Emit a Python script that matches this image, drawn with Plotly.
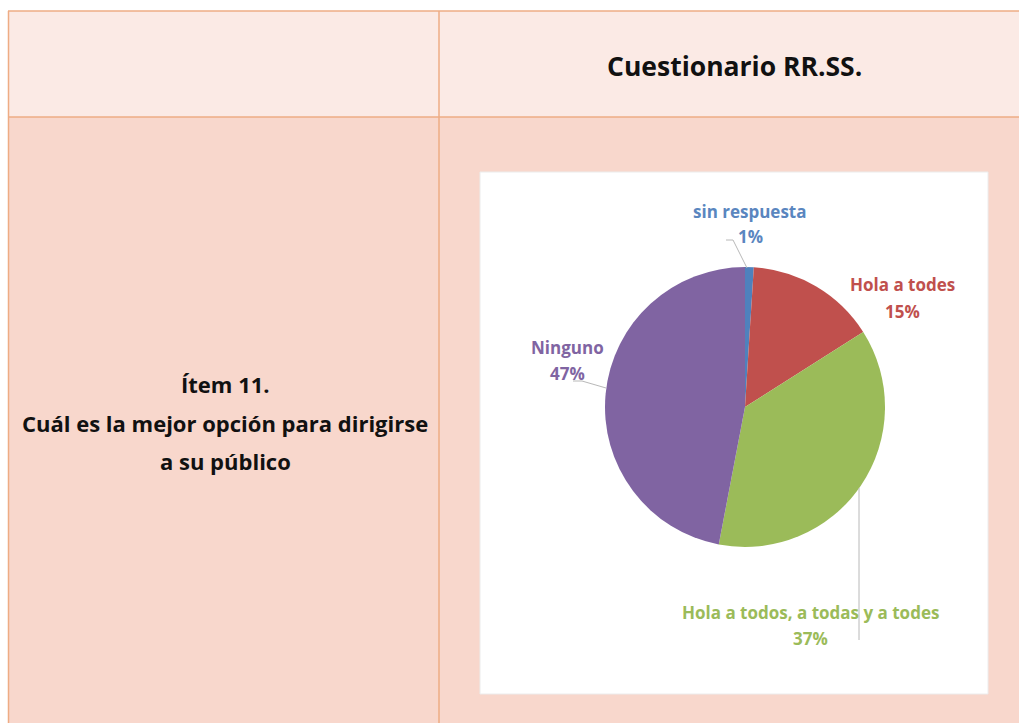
import plotly.graph_objects as go

# ---- data ----
categories = ["sin respuesta", "Hola a todes", "Hola a todos, a todas y a todes", "Ninguno"]
values = [1, 15, 37, 47]
slice_colors = ["#4f81bd", "#c0504d", "#9bbb59", "#8064a2"]
header_title = "Cuestionario RR.SS."
item_lines = ["Ítem 11.", "Cuál es la mejor opción para dirigirse", "a su público"]

W, H = 1019, 723
def px(x): return x / W
def py(y): return 1 - y / H

FONT = "Open Sans"
fig = go.Figure()

# pie centred at (745,407), radius 140 px
cx, cy, r = 745, 407, 140
fig.add_trace(go.Pie(
    labels=categories, values=values, sort=False, direction="clockwise", rotation=0,
    marker=dict(colors=slice_colors, line=dict(width=0)),
    textinfo="none", hoverinfo="label+percent", showlegend=False,
    domain=dict(x=[px(cx - r), px(cx + r)], y=[py(cy + r), py(cy - r)]),
))

shapes = []
shapes.append(dict(type="rect", xref="paper", yref="paper", x0=px(8), x1=1, y0=py(117), y1=py(11),
                   fillcolor="#fbeae5", line=dict(width=0), layer="below"))
shapes.append(dict(type="rect", xref="paper", yref="paper", x0=px(8), x1=1, y0=0, y1=py(117),
                   fillcolor="#f8d7cc", line=dict(width=0), layer="below"))
border = "#eeac84"
for (x0, y0, x1, y1) in [(8, 11, 1019, 11), (8, 117, 1019, 117), (8.5, 11, 8.5, 723), (439, 11, 439, 723)]:
    shapes.append(dict(type="line", xref="paper", yref="paper", x0=px(x0), x1=px(x1), y0=py(y0), y1=py(y1),
                       line=dict(color=border, width=1.5), layer="below"))
shapes.append(dict(type="rect", xref="paper", yref="paper", x0=px(480), x1=px(988), y0=py(694), y1=py(172),
                   fillcolor="#ffffff", line=dict(color="#ececec", width=1), layer="below"))

lead = "#b8b8b8"
def path(pts):
    s = "M " + " L ".join(f"{px(x)},{py(y)}" for x, y in pts)
    return dict(type="path", xref="paper", yref="paper", path=s, line=dict(color=lead, width=1))
shapes.append(path([(747, 268), (733, 240), (726, 240)]))
shapes.append(path([(606, 388), (582, 381), (573, 381)]))
shapes.append(path([(859, 488), (859, 640)]))

annotations = []
def txt(x, y, s, size, color):
    annotations.append(dict(x=px(x), y=py(y), xref="paper", yref="paper", text=f"<b>{s}</b>",
                            showarrow=False, xanchor="center", yanchor="middle",
                            font=dict(family=FONT, size=size, color=color)))

txt(734, 66, header_title, 26.5, "#111111")
for yy, line in zip([384, 423, 461], item_lines):
    txt(225, yy, line, 22, "#111111")

pct = [round(v * 100 / sum(values)) for v in values]
label_pos = [(750, 211), (902, 285), (810, 612), (567, 347)]
text_colors = ["#5a86bf", "#c0504d", "#9bbb59", "#8064a2"]
for (lx, ly), name, p, c in zip(label_pos, categories, pct, text_colors):
    txt(lx, ly, name, 17, c)
    txt(lx, ly + 26, f"{p}%", 17, c)

fig.update_layout(
    width=W, height=H, margin=dict(l=0, r=0, t=0, b=0),
    paper_bgcolor="#ffffff", plot_bgcolor="#ffffff",
    shapes=shapes, annotations=annotations,
)
fig.write_html("out.html", config={"displayModeBar": False},
               post_script="document.body.style.margin='0';document.body.style.overflow='hidden';")
